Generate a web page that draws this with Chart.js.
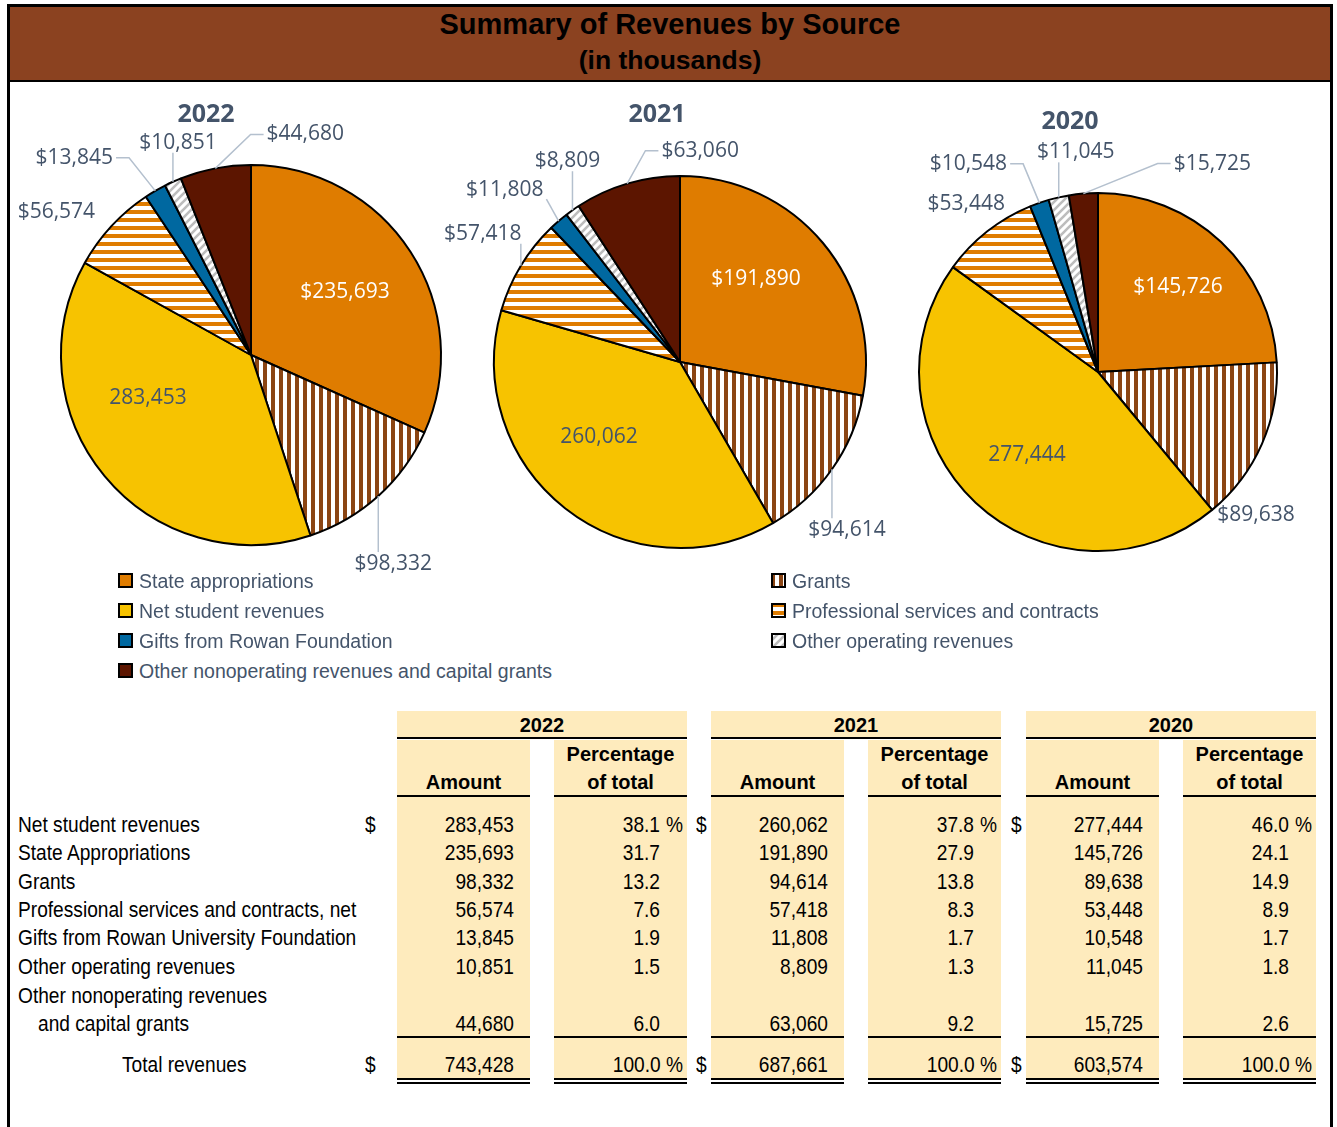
<!DOCTYPE html>
<html>
<head>
<meta charset="utf-8">
<script src="https://cdn.jsdelivr.net/npm/chart.js@4.4.0/dist/chart.umd.min.js"></script>
<style>
body{margin:0;background:#fff;width:1337px;height:1127px;overflow:hidden;position:relative;font-family:'Liberation Sans',Arial,sans-serif}
#frame{position:absolute;left:7px;top:4px;width:1320px;height:1140px;border:3px solid #000}
#head{position:absolute;left:10px;top:7px;width:1320px;height:73px;background:#8B4220;border-bottom:2px solid #000}
.h1{position:absolute;left:0;width:100%;text-align:center;font-weight:bold;color:#000}
canvas.pie{position:absolute;top:90px}
.yr{position:absolute;font-family:'Open Sans',sans-serif;font-weight:bold;font-size:25px;color:#44546A;transform:translate(-50%,-50%)}
.lg{position:absolute;font-size:19.5px;color:#44546A;line-height:22px;white-space:nowrap}
.lg canvas{position:absolute;left:-21px;top:3px}
.t{position:absolute;font-size:20px;line-height:24px;height:24px;color:#000;white-space:nowrap}
.n{font-size:22px;transform:scaleX(0.87);transform-origin:left center}
.r{text-align:right;transform-origin:right center}
.b{font-weight:bold}
.bg{position:absolute;background:#FEEBBD}
.ln{position:absolute;background:#000;height:2px}
</style>
</head>
<body>
<div id="frame"></div>
<div id="head">
  <div class="h1" style="top:1px;font-size:29px">Summary of Revenues by Source</div>
  <div class="h1" style="top:38px;font-size:26.5px">(in thousands)</div>
</div>
<div id="pies"></div>
<div id="legend"></div>
<div id="table"></div>
<script>
// pie slice order (clockwise from 12 o'clock)
const categories = ['State appropriations', 'Grants', 'Net student revenues', 'Professional services and contracts',
  'Gifts from Rowan Foundation', 'Other operating revenues', 'Other nonoperating revenues and capital grants'];
const years = ['2022', '2021', '2020'];
const values2022 = [235693, 98332, 283453, 56574, 13845, 10851, 44680];
const values2021 = [191890, 94614, 260062, 57418, 11808, 8809, 63060];
const values2020 = [145726, 89638, 277444, 53448, 10548, 11045, 15725];

// table rows
const tableLabels = ['Net student revenues', 'State Appropriations', 'Grants', 'Professional services and contracts, net',
  'Gifts from Rowan University Foundation', 'Other operating revenues', 'Other nonoperating revenues'];
const tableOrder = [2, 0, 1, 3, 4, 5, 6];
const pct2022 = ['38.1', '31.7', '13.2', '7.6', '1.9', '1.5', '6.0'];
const pct2021 = ['37.8', '27.9', '13.8', '8.3', '1.7', '1.3', '9.2'];
const pct2020 = ['46.0', '24.1', '14.9', '8.9', '1.7', '1.8', '2.6'];
const totals = [743428, 687661, 603574];

const allValues = [values2022, values2021, values2020];
const allPct = [pct2022, pct2021, pct2020];

function stripes(kind, fg) {
  const c = document.createElement('canvas');
  c.width = 8; c.height = 8;
  const g = c.getContext('2d');
  g.fillStyle = '#fff';
  g.fillRect(0, 0, 8, 8);
  g.fillStyle = fg;
  g.strokeStyle = fg;
  if (kind === 'v') g.fillRect(0, 0, 4, 8);
  else if (kind === 'h') g.fillRect(0, 0, 8, 4);
  else {
    g.lineWidth = 2.6;
    g.beginPath();
    g.moveTo(-2, 10); g.lineTo(10, -2);
    g.moveTo(-2, 2); g.lineTo(2, -2);
    g.moveTo(6, 10); g.lineTo(10, 6);
    g.stroke();
  }
  return g.createPattern(c, 'repeat');
}

const fills = ['#DF7C00', stripes('v', '#8B4513'), '#F7C300', stripes('h', '#DF7C00'), '#0068A0', stripes('d', '#BDBDBD'), '#5C1500'];

// geometry of each pie on the page
const pieBoxes = [
  {cx: 251, cy: 355, r: 190, tx: 206, ty: 112},
  {cx: 680, cy: 362, r: 186, tx: 657, ty: 112},
  {cx: 1098, cy: 372, r: 179, tx: 1070, ty: 119}
];
// label placement: inside = offset from centre, out = offset from slice edge midpoint, then leader kind
const labelSpots = [
  [['in', 94, -63], ['out', 15, 68, 'v'], ['in', -103, 43], ['out', -55, -14, ''], ['out', -81, -33, 'h'], ['out', 5, -39, 'v'], ['out', 90, -34, 'h']],
  [['in', 76, -83], ['out', 15, 61, 'v'], ['in', -81, 75], ['out', -38, -32, 'v'], ['out', -54, -31, 'c'], ['out', -5, -49, 'v'], ['out', 73, -33, 'h']],
  [['in', 80, -85], ['out', -6, 71, ''], ['in', -71, 83], ['out', -21, -27, ''], ['out', -71, -39, 'h'], ['out', 17, -45, 'v'], ['out', 129, -30, 'h']]
];

const sliceLabels = {
  id: 'sliceLabels',
  afterDatasetsDraw(chart, args, opts) {
    const ctx = chart.ctx;
    const meta = chart.getDatasetMeta(0);
    const data = chart.data.datasets[0].data;
    ctx.save();
    ctx.font = '21px "Open Sans", sans-serif';
    ctx.textAlign = 'center';
    ctx.textBaseline = 'middle';
    meta.data.forEach((arc, i) => {
      const s = opts.spots[i];
      const p = arc.getProps(['x', 'y', 'startAngle', 'endAngle', 'outerRadius'], true);
      const mid = (p.startAngle + p.endAngle) / 2;
      const ax = p.x + Math.cos(mid) * p.outerRadius;
      const ay = p.y + Math.sin(mid) * p.outerRadius;
      const txt = (i === 2 ? '' : '$') + data[i].toLocaleString('en-US');
      let tx, ty;
      if (s[0] === 'in') { tx = p.x + s[1]; ty = p.y + s[2]; }
      else { tx = ax + s[1]; ty = ay + s[2]; }
      const w = ctx.measureText(txt).width;
      if (s[3]) {
        ctx.strokeStyle = '#B4C0CE';
        ctx.lineWidth = 1.5;
        ctx.beginPath();
        ctx.moveTo(ax, ay);
        if (s[3] === 'v') {
          ctx.lineTo(ax, s[2] > 0 ? ty - 12 : ty + 10);
        } else if (s[3] === 'h') {
          const dir = s[1] > 0 ? -1 : 1;
          const edge = tx + dir * w / 2;
          ctx.lineTo(edge + dir * 16, ty);
          ctx.lineTo(edge + dir * 3, ty);
        } else {
          ctx.lineTo(tx + w / 2 + 3, ty + 9);
        }
        ctx.stroke();
      }
      ctx.fillStyle = i === 0 ? '#fff' : '#44546A';
      ctx.fillText(txt, tx, ty);
    });
    ctx.restore();
  }
};

const piesDiv = document.getElementById('pies');
const charts = [];
pieBoxes.forEach((b, k) => {
  const W = 520, H = 500, top = 90;
  const canvas = document.createElement('canvas');
  canvas.className = 'pie';
  canvas.width = W; canvas.height = H;
  canvas.style.left = (b.cx - W / 2) + 'px';
  piesDiv.appendChild(canvas);
  const half = b.r + 1;
  const cyRel = b.cy - top;
  charts.push(new Chart(canvas, {
    type: 'pie',
    data: {
      labels: categories,
      datasets: [{
        data: allValues[k],
        backgroundColor: fills,
        borderColor: '#000',
        borderWidth: 2
      }]
    },
    options: {
      responsive: false,
      animation: false,
      events: [],
      layout: {padding: {left: W / 2 - half, right: W / 2 - half, top: cyRel - half, bottom: H - cyRel - half}},
      plugins: {
        legend: {display: false},
        tooltip: {enabled: false},
        sliceLabels: {spots: labelSpots[k]}
      }
    },
    plugins: [sliceLabels]
  }));
  const t = document.createElement('div');
  t.className = 'yr';
  t.textContent = years[k];
  t.style.left = b.tx + 'px';
  t.style.top = b.ty + 'px';
  piesDiv.appendChild(t);
});

// legend, filled row by row in two columns
const legendDiv = document.getElementById('legend');
const legendCols = [139, 792];
const legendRows = [581, 611, 641, 671];
charts[0].data.labels.forEach((lab, i) => {
  const item = document.createElement('div');
  item.className = 'lg';
  item.style.left = legendCols[i % 2] + 'px';
  item.style.top = (legendRows[Math.floor(i / 2)] - 11) + 'px';
  const sw = document.createElement('canvas');
  sw.width = 15; sw.height = 15;
  const g = sw.getContext('2d');
  g.fillStyle = charts[0].data.datasets[0].backgroundColor[i];
  g.fillRect(1, 1, 13, 13);
  g.strokeStyle = '#000';
  g.lineWidth = 2;
  g.strokeRect(1, 1, 13, 13);
  item.appendChild(sw);
  item.appendChild(document.createTextNode(lab));
  legendDiv.appendChild(item);
});

// summary table
const tbl = document.getElementById('table');
function el(cls, css, text) {
  const d = document.createElement('div');
  d.className = cls;
  d.style.cssText = css;
  if (text !== undefined) d.textContent = text;
  tbl.appendChild(d);
  return d;
}
const colW = 133;
const yearCols = [
  {amt: 397, pct: 554, dollar: 364},
  {amt: 711, pct: 868, dollar: 695},
  {amt: 1026, pct: 1183, dollar: 1010}
];
const rowY = [825, 853, 882, 910, 938, 967, 1024];
const totalY = 1065;

yearCols.forEach((c, k) => {
  const span = c.pct + colW - c.amt;
  el('bg', `left:${c.amt}px;top:711px;width:${span}px;height:27px`);
  el('bg', `left:${c.amt}px;top:740px;width:${colW}px;height:338px`);
  el('bg', `left:${c.pct}px;top:740px;width:${colW}px;height:338px`);
  el('ln', `left:${c.amt}px;top:737px;width:${span}px`);
  el('t b', `left:${c.amt}px;top:713px;width:${span}px;text-align:center`, years[k]);
  [c.amt, c.pct].forEach(x => {
    el('ln', `left:${x}px;top:795px;width:${colW}px`);
    el('ln', `left:${x}px;top:1036px;width:${colW}px`);
    el('ln', `left:${x}px;top:1078px;width:${colW}px`);
    el('ln', `left:${x}px;top:1082px;width:${colW}px`);
  });
  el('t b', `left:${c.amt}px;top:770px;width:${colW}px;text-align:center`, 'Amount');
  el('t b', `left:${c.pct}px;top:742px;width:${colW}px;text-align:center`, 'Percentage');
  el('t b', `left:${c.pct}px;top:770px;width:${colW}px;text-align:center`, 'of total');

  tableOrder.forEach((src, r) => {
    const y = rowY[r] - 12;
    el('t n r', `left:${c.amt}px;top:${y}px;width:${colW - 16}px`, allValues[k][src].toLocaleString('en-US'));
    el('t n r', `left:${c.pct}px;top:${y}px;width:${colW - 27}px`, allPct[k][r]);
    if (r === 0) {
      el('t n', `left:${c.pct + colW - 21}px;top:${y}px`, '%');
      el('t n', `left:${c.dollar + 1}px;top:${y}px`, '$');
    }
  });
  const ty = totalY - 12;
  el('t n r', `left:${c.amt}px;top:${ty}px;width:${colW - 16}px`, totals[k].toLocaleString('en-US'));
  el('t n r', `left:${c.pct}px;top:${ty}px;width:${colW - 4}px`, '100.0 %');
  el('t n', `left:${c.dollar + 1}px;top:${ty}px`, '$');
});

tableLabels.forEach((lab, r) => {
  const y = (r === 6 ? 996 : rowY[r]) - 12;
  el('t n', `left:18px;top:${y}px`, lab);
});
el('t n', `left:38px;top:${rowY[6] - 12}px`, 'and capital grants');
el('t n', `left:122px;top:${totalY - 12}px`, 'Total revenues');
</script>
</body>
</html>
